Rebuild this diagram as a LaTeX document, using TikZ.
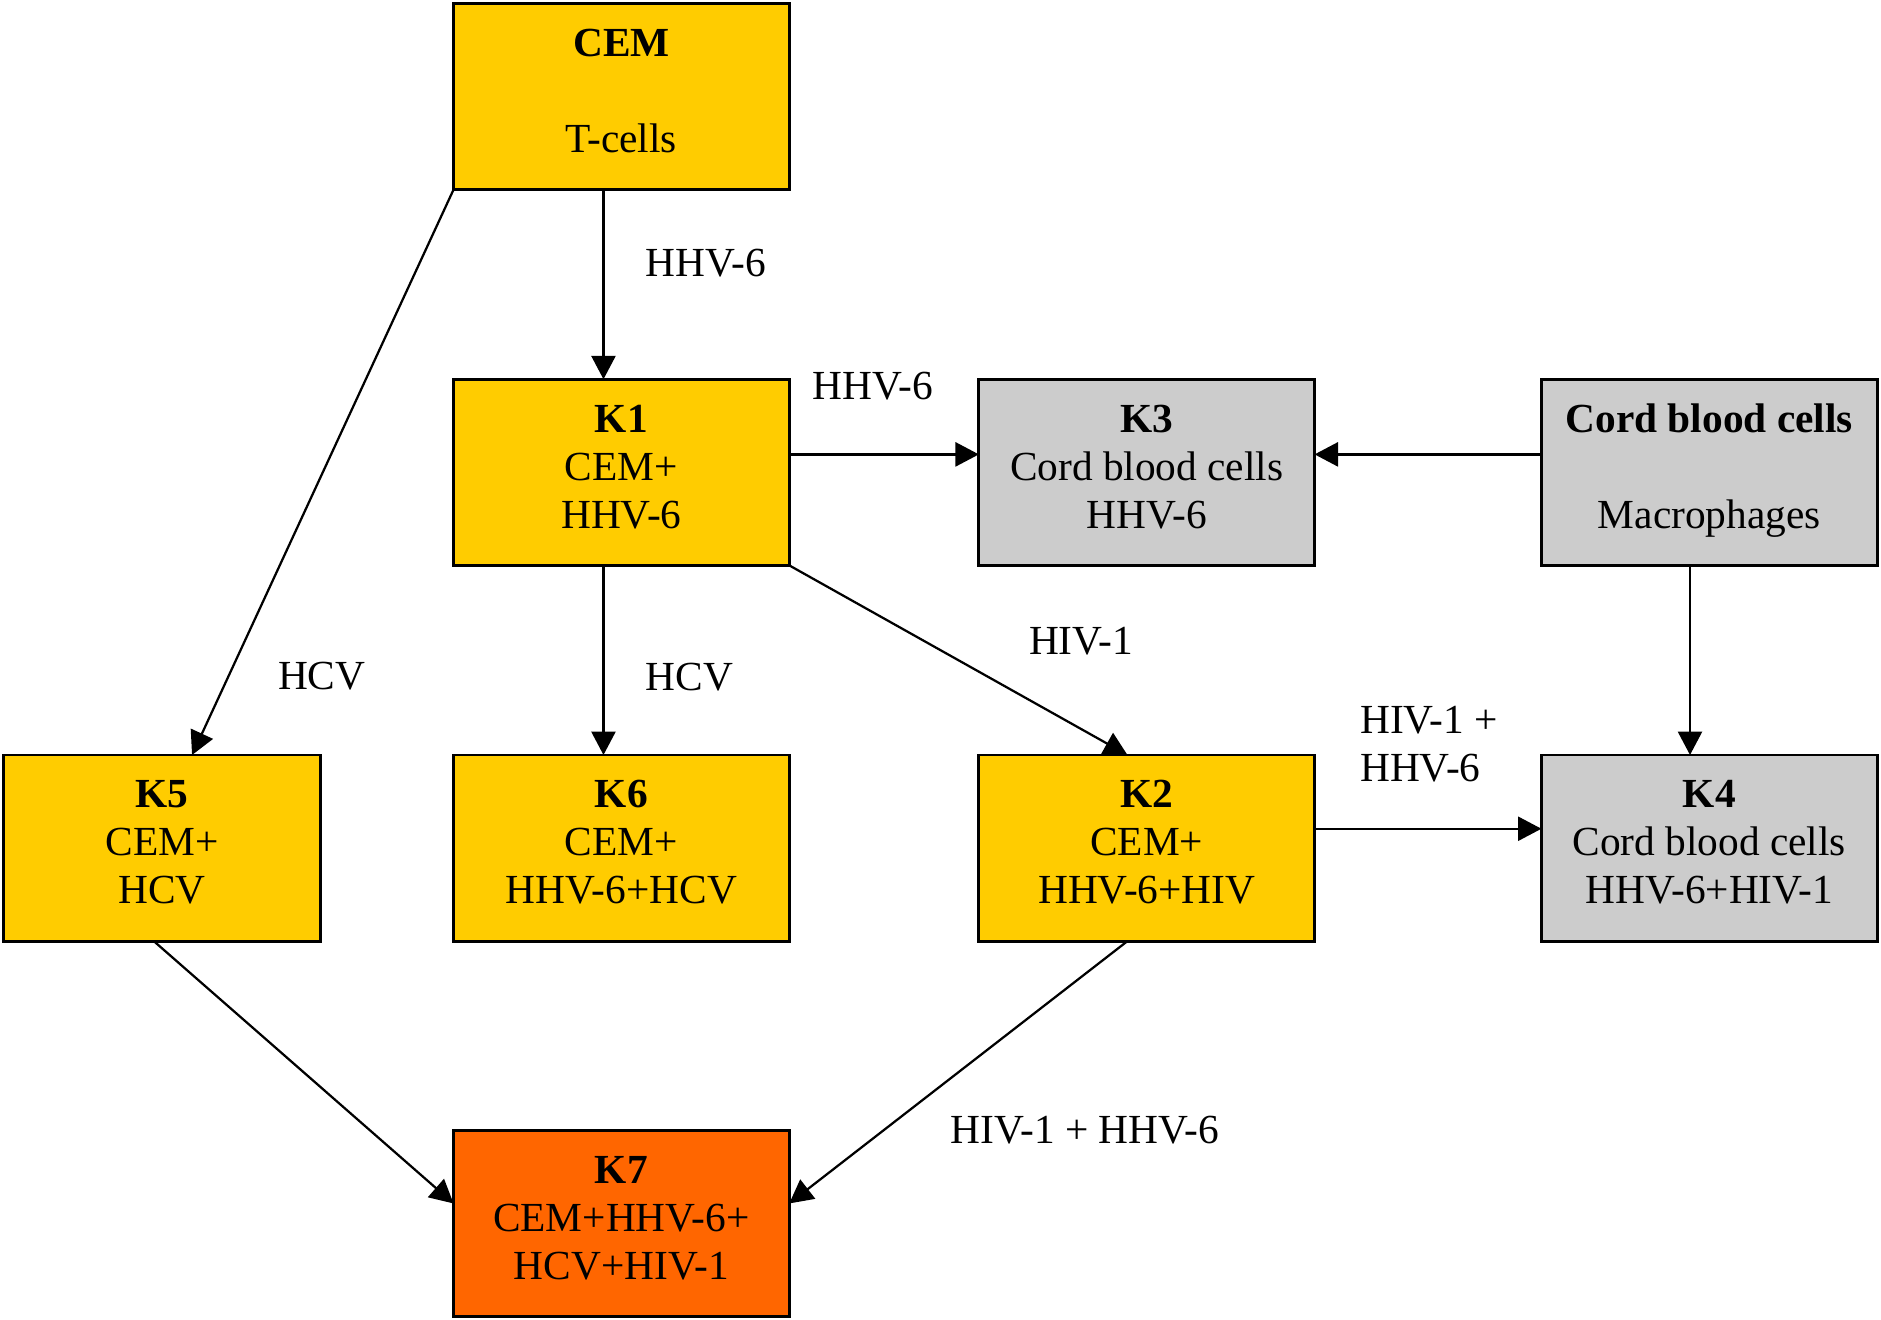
\documentclass[tikz,border=0pt]{standalone}
\usepackage{fontspec}
\setmainfont{Liberation Serif}
\usepackage{xcolor}
\usepackage{tikz}
\usetikzlibrary{arrows.meta,
positioning,
calc}

\definecolor{cemyellow}{HTML}{FFCC00}
\definecolor{cordgray}{HTML}{CCCCCC}
\definecolor{endorange}{HTML}{FF6600}

\begin{document}
\begin{tikzpicture}[
x=0.348pt, y=-0.348pt,
node distance=55pt and 55pt,
>={Triangle[length=6.8pt,width=7pt]},
font=\fontsize{12}{13.9}\selectfont,
culture/.style={
draw,
line width=0.85pt,
align=center,
minimum width=97.4pt,
minimum height=54pt,
inner sep=0pt,
outer sep=0pt,
text depth=3.4pt,
fill=cemyellow
},
cord/.style={
culture,
fill=cordgray
},
final/.style={
culture,
fill=endorange
},
virus/.style={
inner sep=0pt
},
link/.style={
->,
line width=0.65pt
}
]
\useasboundingbox (0,0) rectangle (1568,1100);

% Top
\node[culture] (cem) at (518,80.5) {\textbf{CEM}\\[13.9pt]T-cells};

% Middle row
\node[culture, below=of cem] (k1) {\textbf{K1}\\CEM+\\HHV-6};

\node[cord, right=of k1] (k3) {\textbf{K3}\\Cord blood cells\\HHV-6};

\node[cord, right=65.8pt of k3] (blood) {\textbf{Cord blood cells}\\[13.9pt]Macrophages};

% Lower row
\node[culture, below=of k1] (k6) {\textbf{K6}\\CEM+\\HHV-6+HCV};

\node[culture, left=38.6pt of k6, minimum width=91.9pt] (k5) {\textbf{K5}\\CEM+\\HCV};

\node[culture, below=of k3] (k2) {\textbf{K2}\\CEM+\\HHV-6+HIV};

\node[cord, below=of blood] (k4) {\textbf{K4}\\Cord blood cells\\HHV-6+HIV-1};

% Bottom
\node[final, below=of k6] (k7) {\textbf{K7}\\CEM+HHV-6+\\HCV+HIV-1};

% Connections
\draw[link] ([xshift=-5.2pt]cem.south) -- node[virus, pos=0.39, right=12pt] {HHV-6} ([xshift=-5.2pt]k1.north);
\draw[link] (cem.south west) -- node[virus, pos=0.86, right=14pt] {HCV} ([xshift=8.7pt]k5.north);

\draw[link] ([yshift=5.2pt]k1.east) -- node[virus, pos=0.44, above=15.4pt] {HHV-6} ([yshift=5.2pt]k3.west);
\draw[link] ([yshift=5.2pt]blood.west) -- ([yshift=5.2pt]k3.east);

\draw[link] ([xshift=-5.2pt]k1.south) -- node[virus, pos=0.59, right=12pt] {HCV} ([xshift=-5.2pt]k6.north);
\draw[link] (k1.south east) -- node[virus, pos=0.4, right=30pt] {HIV-1} ([xshift=-5.6pt]k2.north);

\draw[link] ([xshift=-5.6pt]blood.south) -- ([xshift=-5.6pt]k4.north);
\draw[link] ([yshift=5.6pt]k2.east) -- node[virus, pos=0, anchor=south west, xshift=12.9pt, yshift=13.2pt, align=left] {HIV-1 +\\HHV-6} ([yshift=5.6pt]k4.west);

\draw[link] ([xshift=-2.4pt]k5.south) -- ([yshift=5.9pt]k7.west);
\draw[link] ([xshift=-5.6pt]k2.south) -- node[virus, pos=0.72, right=19pt] {HIV-1 + HHV-6} ([yshift=5.9pt]k7.east);

\end{tikzpicture}
\end{document}
